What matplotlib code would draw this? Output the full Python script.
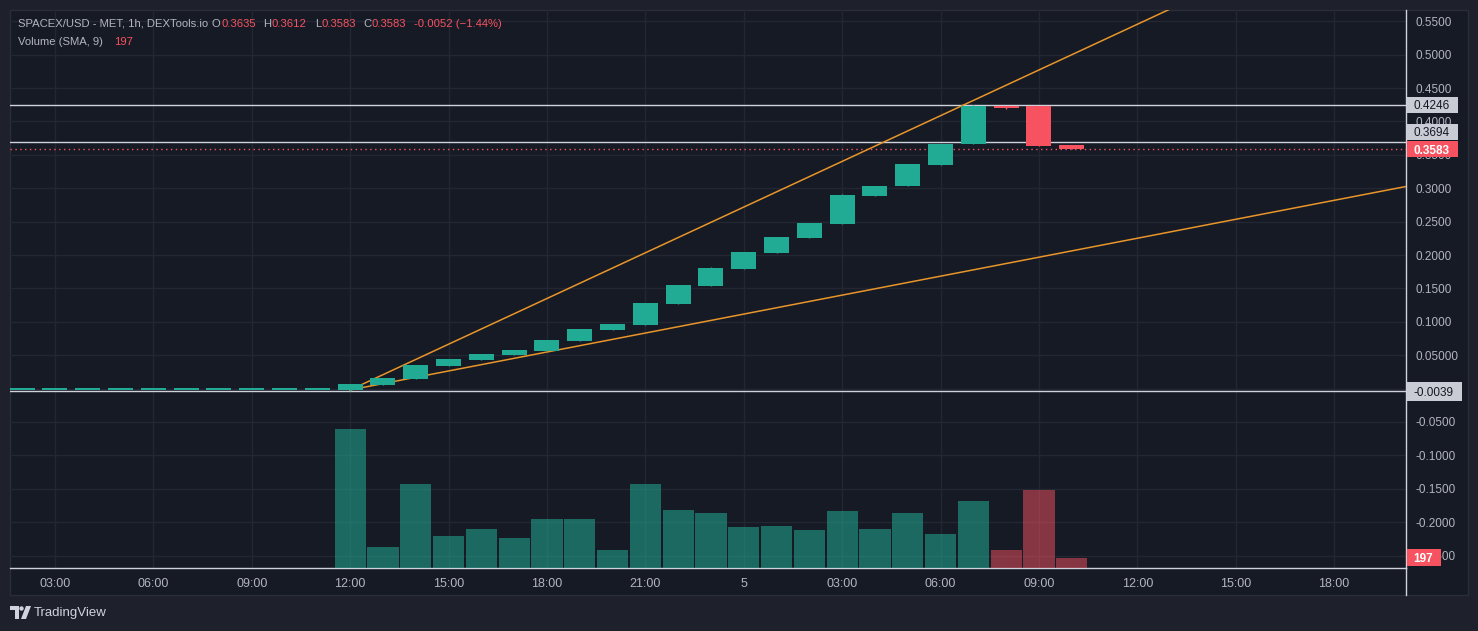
import matplotlib
matplotlib.use("Agg")
import matplotlib.pyplot as plt
import numpy as np
from matplotlib.patches import Rectangle, Polygon, Circle
from matplotlib.transforms import IdentityTransform

plt.rcParams['font.family'] = ['Liberation Sans', 'DejaVu Sans']

# ---------------- data ----------------
# hours counted from day-4 00:00 (24 = day 5 00:00)
hours = list(range(2, 35))
opens = [-0.001] * 10 + [
    -0.002, 0.006, 0.015, 0.034, 0.043, 0.050, 0.056, 0.071, 0.088, 0.095,
    0.127, 0.154, 0.179, 0.203, 0.226, 0.246, 0.288, 0.303, 0.335, 0.366,
    0.4235, 0.4225, 0.3650]
closes = [-0.001] * 10 + [
    0.0075, 0.016, 0.035, 0.044, 0.052, 0.058, 0.072, 0.089, 0.097, 0.128,
    0.155, 0.180, 0.204, 0.227, 0.248, 0.290, 0.304, 0.336, 0.366, 0.4235,
    0.4205, 0.3635, 0.3583]
highs = [-0.001] * 10 + [
    0.0075, 0.016, 0.035, 0.044, 0.052, 0.058, 0.072, 0.089, 0.097, 0.128,
    0.155, 0.182, 0.204, 0.227, 0.248, 0.292, 0.304, 0.336, 0.366, 0.4246,
    0.4235, 0.4225, 0.3612]
lows = [-0.001] * 10 + [
    -0.0039, 0.006, 0.015, 0.034, 0.043, 0.050, 0.056, 0.071, 0.088, 0.095,
    0.127, 0.154, 0.179, 0.203, 0.226, 0.246, 0.288, 0.303, 0.335, 0.366,
    0.419, 0.3635, 0.3583]
volumes = [0] * 10 + [
    623, 94, 376, 143, 175, 134, 220, 220, 81, 376,
    260, 246, 184, 188, 170, 255, 175, 246, 152, 300,
    81, 349, 45]

tick_hours = [3, 6, 9, 12, 15, 18, 21, 24, 27, 30, 33, 36, 39, 42]
tick_labels = ['03:00', '06:00', '09:00', '12:00', '15:00', '18:00', '21:00', '5',
               '03:00', '06:00', '09:00', '12:00', '15:00', '18:00']
price_ticks = [0.55, 0.50, 0.45, 0.40, 0.35, 0.30, 0.25, 0.20, 0.15, 0.10, 0.05,
               0.0, -0.05, -0.10, -0.15, -0.20, -0.25]
price_labels = ['0.5500', '0.5000', '0.4500', '0.4000', '0.3500', '0.3000', '0.2500',
                '0.2000', '0.1500', '0.1000', '0.05000', '0.0000', '-0.0500',
                '-0.1000', '-0.1500', '-0.2000', '-0.2500']

levels = [0.4246, 0.3694, -0.0039]
level_labels = ['0.4246', '0.3694', '-0.0039']

upper_trend_t = [12, 40]
upper_trend_p = [-0.002, 0.6367]
lower_trend_t = [12, 46]
lower_trend_p = [-0.002, 0.3197]

legend_line1 = [('SPACEX/USD - MET, 1h, DEXTools.io', 18, 'g'), ('O', 212, 'g'),
                ('0.3635', 221, 'r'), ('H', 263, 'g'), ('0.3612', 272, 'r'),
                ('L', 315, 'g'), ('0.3583', 322, 'r'), ('C', 363, 'g'),
                ('0.3583', 372, 'r'), ('-0.0052 (\u22121.44%)', 414, 'r')]

# ---------------- style ----------------
W, H = 1478, 631
BG = '#161a25'
FRAME = '#1e212c'
GRID = '#232734'
TXT = '#b2b5be'
UP = '#22ab94'
DOWN = '#f7525f'
TREND = '#e8952a'
LINE = '#cfd2da'

fig = plt.figure(figsize=(W / 100, H / 100), dpi=100, facecolor=FRAME)


def fx(px):
    return px / W


def fy(py):
    return 1 - py / H


fig.patches.append(Rectangle((fx(10), fy(595)), fx(1468) - fx(10), fy(10) - fy(595),
                             transform=fig.transFigure, facecolor=BG,
                             edgecolor='#2a2e39', lw=1, zorder=-5))

rect = [fx(10), fy(568), fx(1406) - fx(10), fy(10) - fy(568)]
ax = fig.add_axes(rect)
ax.set_facecolor('none')
axv = fig.add_axes(rect)
axv.set_axis_off()

xlim = (1.63, 44.19)
ylim = (-0.2686, 0.5668)

# volume (drawn semi-transparent over the grid)
for t, v, o, c in zip(hours, volumes, opens, closes):
    if c >= o:
        axv.bar(t, v, width=0.95, color=UP, alpha=0.55, edgecolor='none')
    else:
        axv.bar(t, v, width=0.95, color=DOWN, alpha=0.5, edgecolor='none')
axv.set_xlim(*xlim)
axv.set_ylim(0, max(volumes) / 0.249)

# grid & axes
ax.set_xlim(*xlim)
ax.set_ylim(*ylim)
ax.set_xticks(tick_hours)
ax.set_xticklabels(tick_labels)
ax.set_yticks(price_ticks)
ax.set_yticklabels(price_labels)
ax.yaxis.tick_right()
ax.grid(True, color=GRID, lw=1)
ax.set_axisbelow(True)
ax.tick_params(axis='both', length=0, labelcolor=TXT)
ax.tick_params(axis='y', pad=7, labelsize=8.5)
ax.tick_params(axis='x', pad=7, labelsize=9)
for s in ['top', 'left']:
    ax.spines[s].set_visible(False)
for s in ['right', 'bottom']:
    ax.spines[s].set_color(LINE)
    ax.spines[s].set_linewidth(1)
fig.add_artist(plt.Line2D([fx(1406), fx(1406)], [fy(568), fy(595)],
                          transform=fig.transFigure, color=LINE, lw=1))

# trend lines
ax.plot(upper_trend_t, upper_trend_p, color=TREND, lw=1.1, zorder=3)
ax.plot(lower_trend_t, lower_trend_p, color=TREND, lw=1.1, zorder=3)

# level lines
for lv in levels:
    ax.axhline(lv, color=LINE, lw=1, zorder=2)
ax.axhline(closes[-1], color=DOWN, lw=1, ls=(0, (1, 2.5)), zorder=2)

# candles
for t, o, h, l, c in zip(hours, opens, highs, lows, closes):
    col = UP if c >= o else DOWN
    ax.vlines(t, l, h, color=col, lw=1, zorder=4)
    hgt = abs(c - o)
    if hgt < 0.003:
        bot = (o + c) / 2 - 0.0015
        hgt = 0.003
    else:
        bot = min(o, c)
    ax.bar(t, hgt, bottom=bot, width=0.76, color=col, edgecolor='none', zorder=5)

fig.canvas.draw()


def ypix(v):
    return ax.transData.transform((xlim[0], v))[1]


def box_label(yc, text, fc, tc, x1, h, bold=False):
    fig.patches.append(Rectangle((1407, yc - h / 2), x1 - 1407, h, transform=IdentityTransform(),
                                 facecolor=fc, edgecolor='none', zorder=10))
    fig.text(1407 + (x1 - 1407) / 2 - 0.5, yc, text, transform=IdentityTransform(), ha='center',
             va='center_baseline', fontsize=8.5, color=tc, zorder=11,
             fontweight='bold' if bold else 'normal')


box_label(ypix(levels[0]), level_labels[0], '#c9ccd4', '#131722', 1458, 16)
box_label(ypix(levels[1]) + 10, level_labels[1], '#c9ccd4', '#131722', 1458, 16)
box_label(ypix(closes[-1]), f'{closes[-1]:.4f}', DOWN, '#ffffff', 1458, 16, bold=True)
box_label(ypix(levels[2]), level_labels[2], '#c9ccd4', '#131722', 1462, 19)
sma9 = int(round(np.mean(volumes[-9:])))
yv = axv.transData.transform((xlim[0], volumes[-1]))[1]
box_label(yv, str(sma9), DOWN, '#ffffff', 1441, 17, bold=True)

# legend
for txt, x, c in legend_line1:
    fig.text(fx(x), fy(24), txt, ha='left', va='center', fontsize=8.1,
             color=TXT if c == 'g' else DOWN)
fig.text(fx(18), fy(42), 'Volume (SMA, 9)', ha='left', va='center', fontsize=8.1, color=TXT)
fig.text(fx(114), fy(42), str(sma9), ha='left', va='center', fontsize=8.1, color=DOWN)

# TradingView logo
logo_c = '#d1d4dc'
fig.patches.append(Polygon([(10, H - 606), (19, H - 606), (19, H - 619), (15, H - 619),
                            (15, H - 610), (10, H - 610)], closed=True,
                           transform=IdentityTransform(), facecolor=logo_c, edgecolor='none'))
fig.patches.append(Circle((21.5, H - 608.5), 2.2, transform=IdentityTransform(),
                          facecolor=logo_c, edgecolor='none'))
fig.patches.append(Polygon([(26, H - 606), (31, H - 606), (26, H - 619), (21, H - 619)],
                           closed=True, transform=IdentityTransform(),
                           facecolor=logo_c, edgecolor='none'))
fig.text(fx(34), fy(613), 'TradingView', ha='left', va='center', fontsize=9.5, color=logo_c)

fig.savefig('out.png', dpi=100, facecolor=FRAME)
